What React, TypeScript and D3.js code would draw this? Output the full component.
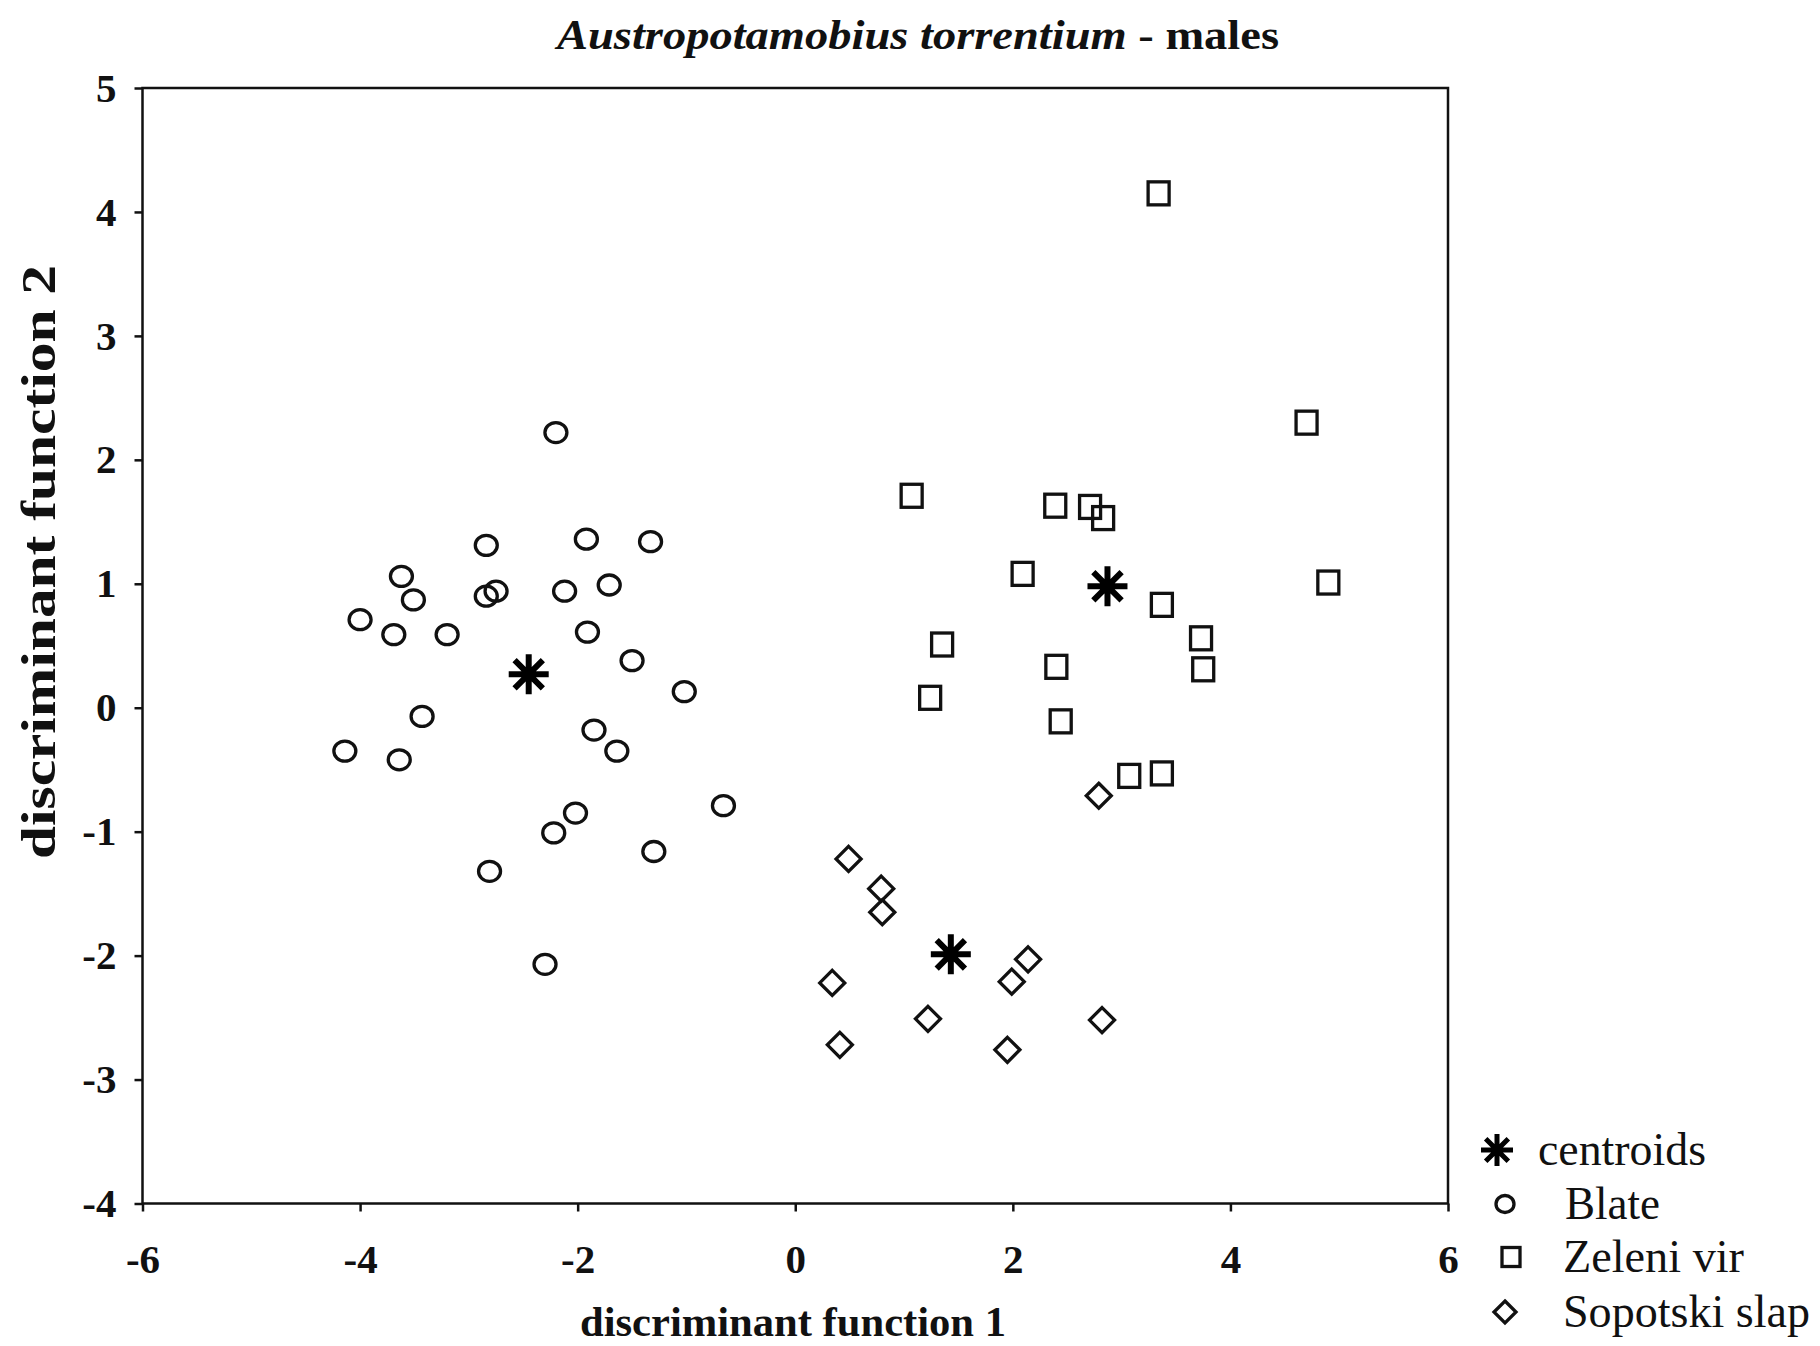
import * as d3 from 'd3';
import React, { useEffect, useRef } from 'react';

// discriminant scores (function 1, function 2)
const blateX = [-2.20, -2.84, -1.92, -1.33, -3.62, -4.00, -3.51, -3.69, -3.20, -2.84, -2.75, -2.12, -1.71, -1.91, -1.50, -1.02, -3.43, -4.14, -3.64, -1.85, -1.64, -0.66, -2.02, -2.22, -1.30, -2.81, -2.30];
const blateY = [2.22, 1.31, 1.36, 1.34, 1.06, 0.71, 0.87, 0.59, 0.59, 0.90, 0.94, 0.94, 0.99, 0.61, 0.38, 0.13, -0.07, -0.35, -0.42, -0.18, -0.35, -0.79, -0.85, -1.01, -1.16, -1.32, -2.07];

const zeleniX = [3.34, 4.70, 1.07, 2.39, 2.71, 2.83, 2.09, 4.90, 3.37, 1.35, 3.73, 2.40, 3.75, 1.24, 2.44, 3.07, 3.37];
const zeleniY = [4.15, 2.30, 1.71, 1.63, 1.62, 1.53, 1.08, 1.01, 0.83, 0.51, 0.56, 0.33, 0.31, 0.08, -0.11, -0.55, -0.53];

const sopotskiX = [2.79, 0.49, 0.79, 0.80, 2.14, 0.34, 1.99, 1.22, 2.82, 0.41, 1.95];
const sopotskiY = [-0.71, -1.22, -1.46, -1.65, -2.03, -2.22, -2.21, -2.51, -2.52, -2.72, -2.76];

const centroidX = [-2.45, 2.87, 1.43];
const centroidY = [0.27, 0.98, -1.99];

const xTicks = [-6, -4, -2, 0, 2, 4, 6];
const yTicks = [5, 4, 3, 2, 1, 0, -1, -2, -3, -4];

const legendLabels = ['centroids', 'Blate', 'Zeleni vir', 'Sopotski slap'];

const serif = '"Liberation Serif", "Times New Roman", serif';

const App = () => {
    const svgRef = useRef<SVGSVGElement>(null);

    useEffect(() => {
        const svg = d3.select(svgRef.current);
        svg.selectAll('*').remove();

        const width = 1820;
        const height = 1346;
        const left = 142.5, right = 1448, top = 88, bottom = 1203.5;

        const x = d3.scaleLinear().domain([-6, 6]).range([left, right]);
        const y = d3.scaleLinear().domain([-4, 5]).range([bottom, top]);

        svg.attr('width', width).attr('height', height);
        svg.append('rect').attr('width', width).attr('height', height).attr('fill', 'white');

        // frame
        svg.append('rect')
            .attr('x', left).attr('y', top)
            .attr('width', right - left).attr('height', bottom - top)
            .attr('fill', 'none').attr('stroke', '#111').attr('stroke-width', 2.5);

        const xAxis = svg.append('g')
            .attr('transform', `translate(0,${bottom})`)
            .call(d3.axisBottom(x).tickValues(xTicks).tickSize(8).tickPadding(32).tickFormat(d3.format('d')));
        const yAxis = svg.append('g')
            .attr('transform', `translate(${left},0)`)
            .call(d3.axisLeft(y).tickValues(yTicks).tickSize(8).tickPadding(18).tickFormat(d3.format('d')));

        [xAxis, yAxis].forEach(g => {
            g.select('.domain').remove();
            g.selectAll('line').attr('stroke', '#111').attr('stroke-width', 2.5);
            g.selectAll('text')
                .attr('fill', '#111')
                .style('font-family', serif)
                .style('font-weight', 'bold')
                .style('font-size', '41px');
        });
        // d3 uses a unicode minus; the figure uses a hyphen
        svg.selectAll('.tick text').text((d: any) => String(d));

        // title
        const title = svg.append('text')
            .attr('x', 918).attr('y', 49)
            .attr('text-anchor', 'middle')
            .attr('textLength', 722).attr('lengthAdjust', 'spacingAndGlyphs')
            .style('font-family', serif).style('font-weight', 'bold').style('font-size', '43px')
            .attr('fill', '#111');
        title.append('tspan').style('font-style', 'italic').text('Austropotamobius torrentium');
        title.append('tspan').text(' - males');

        svg.append('text')
            .attr('x', 793).attr('y', 1336)
            .attr('text-anchor', 'middle')
            .attr('textLength', 426).attr('lengthAdjust', 'spacingAndGlyphs')
            .style('font-family', serif).style('font-weight', 'bold').style('font-size', '42px')
            .attr('fill', '#111')
            .text('discriminant function 1');

        svg.append('text')
            .attr('transform', 'translate(55,562) rotate(-90)')
            .attr('text-anchor', 'middle')
            .attr('textLength', 594).attr('lengthAdjust', 'spacingAndGlyphs')
            .style('font-family', serif).style('font-weight', 'bold').style('font-size', '49px')
            .attr('fill', '#111')
            .text('discriminant function 2');

        const stroke = '#111';

        const drawCircle = (g: any, cx: number, cy: number, rx: number, ry: number) =>
            g.append('ellipse').attr('cx', cx).attr('cy', cy).attr('rx', rx).attr('ry', ry)
                .attr('fill', 'none').attr('stroke', stroke).attr('stroke-width', 3.3);
        const drawSquare = (g: any, cx: number, cy: number, w: number, h: number) =>
            g.append('rect').attr('x', cx - w / 2).attr('y', cy - h / 2).attr('width', w).attr('height', h)
                .attr('fill', 'none').attr('stroke', stroke).attr('stroke-width', 3.3);
        const drawDiamond = (g: any, cx: number, cy: number, s: number) =>
            g.append('path')
                .attr('d', `M${cx},${cy - s}L${cx + s},${cy}L${cx},${cy + s}L${cx - s},${cy}Z`)
                .attr('fill', 'none').attr('stroke', stroke).attr('stroke-width', 3.3);
        const drawStar = (g: any, cx: number, cy: number, r: number, sw: number) => {
            const d = r * Math.SQRT1_2;
            g.append('path')
                .attr('d', `M${cx - r},${cy}L${cx + r},${cy}M${cx},${cy - r}L${cx},${cy + r}` +
                    `M${cx - d},${cy - d}L${cx + d},${cy + d}M${cx - d},${cy + d}L${cx + d},${cy - d}`)
                .attr('stroke', '#000').attr('stroke-width', sw).attr('fill', 'none');
            g.append('circle').attr('cx', cx).attr('cy', cy).attr('r', r * 0.35).attr('fill', '#000');
        };

        const pts = svg.append('g');
        blateX.forEach((v, i) => drawCircle(pts, x(v), y(blateY[i]), 11, 10));
        zeleniX.forEach((v, i) => drawSquare(pts, x(v), y(zeleniY[i]), 21, 23));
        sopotskiX.forEach((v, i) => drawDiamond(pts, x(v), y(sopotskiY[i]), 12.5));
        centroidX.forEach((v, i) => drawStar(pts, x(v), y(centroidY[i]), 20, 6));

        // legend
        const lg = svg.append('g');
        const rowY = [1150, 1204, 1257, 1312];
        drawStar(lg, 1497, rowY[0], 16, 5);
        drawCircle(lg, 1505, rowY[1], 9, 8.5);
        drawSquare(lg, 1511, rowY[2], 18, 19);
        drawDiamond(lg, 1505, rowY[3], 11);

        const textX = [1538, 1565, 1563, 1563];
        const textW = [168, 95, 181, 247];
        lg.selectAll('text.lab')
            .data(legendLabels)
            .join('text')
            .attr('class', 'lab')
            .attr('x', (_d, i) => textX[i])
            .attr('y', (_d, i) => rowY[i] + 15)
            .attr('textLength', (_d, i) => textW[i])
            .attr('lengthAdjust', 'spacingAndGlyphs')
            .style('font-family', serif)
            .style('font-size', '46px')
            .attr('fill', '#111')
            .text(d => d);
    }, []);

    return (
        <svg ref={svgRef} style={{ position: 'absolute', left: 0, top: 0, display: 'block' }}></svg>
    );
};

export default App;
